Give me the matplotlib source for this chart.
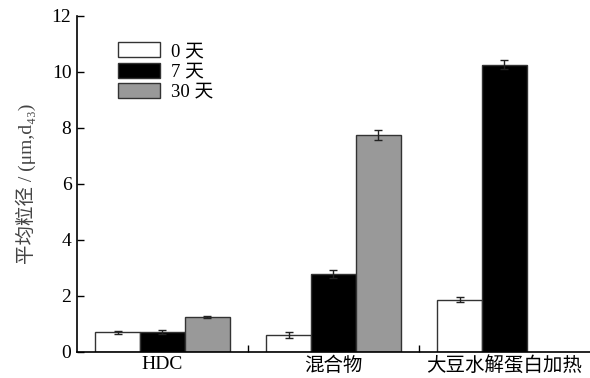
import matplotlib
matplotlib.use("Agg")
import matplotlib.pyplot as plt
import numpy as np

plt.rcParams['font.family'] = ['Liberation Serif', 'DejaVu Serif', 'Noto Sans CJK SC']

# data
categories = ["HDC", "混合物", "大豆水解蛋白加热"]
series_names = ["0 天", "7 天", "30 天"]
day0 = [0.70, 0.60, 1.87]
day0_err = [0.05, 0.10, 0.09]
day7 = [0.72, 2.78, 10.25]
day7_err = [0.07, 0.13, 0.16]
day30 = [1.25, 7.75, np.nan]
day30_err = [0.03, 0.18, np.nan]

colors = ["white", "black", "#999999"]

fig = plt.figure(figsize=(5.9, 3.78), dpi=100)
ax = fig.add_axes([0.1305, 0.069, 0.8695, 0.889])

x = np.arange(len(categories))
w = 0.262
for i, (vals, errs) in enumerate([(day0, day0_err), (day7, day7_err), (day30, day30_err)]):
    ax.bar(x + (i - 1) * w, vals, w, yerr=errs, color=colors[i], edgecolor="#333333",
           linewidth=1.0, label=series_names[i],
           error_kw=dict(ecolor="#222222", elinewidth=1.0, capsize=3, capthick=1.0))

ax.set_xlim(-0.5, 2.5)
ax.set_ylim(0, 12)
ax.set_yticks([0, 2, 4, 6, 8, 10, 12])
ax.set_xticks(x)
ax.set_xticklabels(categories)
ax.set_xticks([0.5, 1.5], minor=True)
ax.tick_params(axis="x", which="major", length=0, labelsize=14, pad=3)
ax.tick_params(axis="x", which="minor", direction="in", length=5, width=1)
ax.tick_params(axis="y", direction="in", length=5, width=1, labelsize=14, pad=4)
for s in ["top", "right"]:
    ax.spines[s].set_visible(False)
for s in ["left", "bottom"]:
    ax.spines[s].set_linewidth(1.2)

ax.set_ylabel("平均粒径 / (μm,d₄₃)", fontsize=14, color="#444444", labelpad=11)

ax.legend(loc="upper left", bbox_to_anchor=(0.055, 0.96), frameon=False, fontsize=13.5,
          handlelength=2.2, handleheight=0.85, handletextpad=0.6, labelspacing=0.12,
          borderaxespad=0.3)

fig.savefig("out.png", dpi=100)
